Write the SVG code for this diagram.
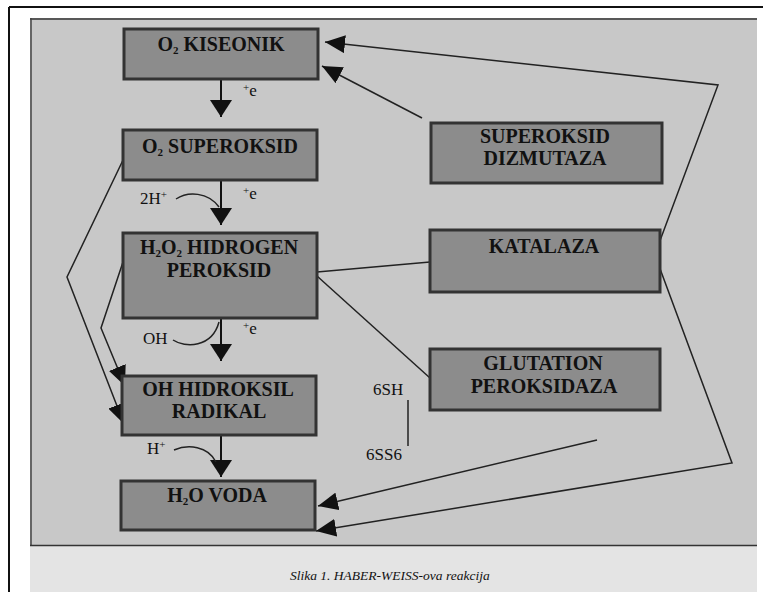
<svg xmlns="http://www.w3.org/2000/svg" width="763" height="592" viewBox="0 0 763 592">
<style>
.box{fill:#8c8c8c;stroke:#333;stroke-width:3}
.bt{font-family:'Liberation Serif','Times New Roman','DejaVu Serif',serif;font-weight:bold;font-size:20px;fill:#111;text-anchor:middle}
.lt{font-family:'Liberation Serif','Times New Roman','DejaVu Serif',serif;font-size:17px;fill:#111}
.cap{font-family:'Liberation Serif','Times New Roman','DejaVu Serif',serif;font-style:italic;font-size:13.5px;fill:#111}
.ln{fill:none;stroke:#222;stroke-width:1.5}
.sh{fill:none;stroke:#111;stroke-width:2}
</style>
<defs>
<marker id="ah" viewBox="0 0 20 18" refX="20" refY="9" markerWidth="20" markerHeight="18" markerUnits="userSpaceOnUse" orient="auto">
<path d="M0,0 L20,9 L0,18 z" fill="#111"/>
</marker>
<marker id="dh" viewBox="0 0 17 22" refX="17" refY="11" markerWidth="17" markerHeight="22" markerUnits="userSpaceOnUse" orient="auto">
<path d="M0,0 L17,11 L0,22 z" fill="#111"/>
</marker>
</defs>
<rect width="763" height="592" fill="#fff"/>
<rect x="30" y="18" width="727" height="528" fill="#c8c8c8"/>
<rect x="30" y="546" width="727" height="46" fill="#e4e4e4"/>
<line x1="30" y1="19" x2="757" y2="19" stroke="#333" stroke-width="1.5"/>
<line x1="31" y1="18" x2="31" y2="546" stroke="#444" stroke-width="1.5"/>
<line x1="30" y1="545.5" x2="757" y2="545.5" stroke="#333" stroke-width="1.5"/>
<line x1="9" y1="7" x2="763" y2="7" stroke="#111" stroke-width="2"/>
<line x1="9" y1="7" x2="9" y2="592" stroke="#111" stroke-width="2"/>

<g id="connectors">
<line class="sh" x1="221" y1="79" x2="221" y2="117" marker-end="url(#dh)"/>
<line class="sh" x1="221" y1="180" x2="221" y2="225" marker-end="url(#dh)"/>
<line class="sh" x1="221" y1="318" x2="221" y2="361" marker-end="url(#dh)"/>
<line class="sh" x1="221" y1="435" x2="221" y2="477" marker-end="url(#dh)"/>
<path class="ln" d="M176,199 C188,191 208,192 219,207"/>
<path class="ln" d="M173,340 C185,348 212,348 219,322"/>
<path class="ln" d="M174,450 C188,444 208,446 216,462"/>
<polyline class="ln" points="124,158 67,277 124,424" marker-end="url(#ah)"/>
<polyline class="ln" points="123,262 101,328 125,386" marker-end="url(#ah)"/>
<line class="ln" x1="422" y1="118" x2="322" y2="66" marker-end="url(#ah)"/>
<polyline class="ln" points="658,246 718,85 325,42" marker-end="url(#ah)"/>
<polyline class="ln" points="659,266 732,463 316,531" marker-end="url(#ah)"/>
<line class="ln" x1="597" y1="440" x2="318" y2="506" marker-end="url(#ah)"/>
<line class="ln" x1="317" y1="272" x2="430" y2="262"/>
<line class="ln" x1="317" y1="276" x2="430" y2="378"/>
<line class="ln" x1="408" y1="400" x2="408" y2="446"/>
</g>

<g id="labels">
<text class="lt" x="243" y="96"><tspan font-size="11" dy="-5">+</tspan><tspan dy="5">e</tspan></text>
<text class="lt" x="243" y="199"><tspan font-size="11" dy="-5">+</tspan><tspan dy="5">e</tspan></text>
<text class="lt" x="243" y="334"><tspan font-size="11" dy="-5">+</tspan><tspan dy="5">e</tspan></text>
<text class="lt" x="140" y="204">2H<tspan font-size="11" dy="-6">+</tspan></text>
<text class="lt" x="143" y="344">OH</text>
<text class="lt" x="147" y="454">H<tspan font-size="11" dy="-6">+</tspan></text>
<text class="lt" x="373" y="395">6SH</text>
<text class="lt" x="366" y="460">6SS6</text>
</g>

<g id="n-kiseonik">
<rect class="box" x="124" y="29" width="194" height="50"/>
<text class="bt" x="221" y="51">O<tspan font-size="11" dy="3">2</tspan><tspan dy="-3"> KISEONIK</tspan></text>
</g>
<g id="n-superoksid">
<rect class="box" x="123" y="130" width="194" height="50"/>
<text class="bt" x="220" y="153">O<tspan font-size="11" dy="3">2</tspan><tspan dy="-3"> SUPEROKSID</tspan></text>
</g>
<g id="n-h2o2">
<rect class="box" x="123" y="233" width="194" height="85"/>
<text class="bt" x="219" y="254">H<tspan font-size="11" dy="3">2</tspan><tspan dy="-3">O</tspan><tspan font-size="11" dy="3">2</tspan><tspan dy="-3"> HIDROGEN</tspan></text>
<text class="bt" x="219" y="277">PEROKSID</text>
</g>
<g id="n-oh">
<rect class="box" x="122" y="376" width="194" height="59"/>
<text class="bt" x="218" y="396">OH HIDROKSIL</text>
<text class="bt" x="219" y="418">RADIKAL</text>
</g>
<g id="n-h2o">
<rect class="box" x="121" y="481" width="194" height="49"/>
<text class="bt" x="217" y="502">H<tspan font-size="11" dy="3">2</tspan><tspan dy="-3">O VODA</tspan></text>
</g>
<g id="n-sod">
<rect class="box" x="431" y="123" width="231" height="60"/>
<text class="bt" x="545" y="143">SUPEROKSID</text>
<text class="bt" x="545" y="165">DIZMUTAZA</text>
</g>
<g id="n-katalaza">
<rect class="box" x="430" y="230" width="230" height="62"/>
<text class="bt" x="544" y="253">KATALAZA</text>
</g>
<g id="n-gpx">
<rect class="box" x="430" y="349" width="230" height="61"/>
<text class="bt" x="543" y="370">GLUTATION</text>
<text class="bt" x="544" y="393">PEROKSIDAZA</text>
</g>
<text class="cap" x="290" y="580">Slika 1. HABER-WEISS-ova reakcija</text>
</svg>
